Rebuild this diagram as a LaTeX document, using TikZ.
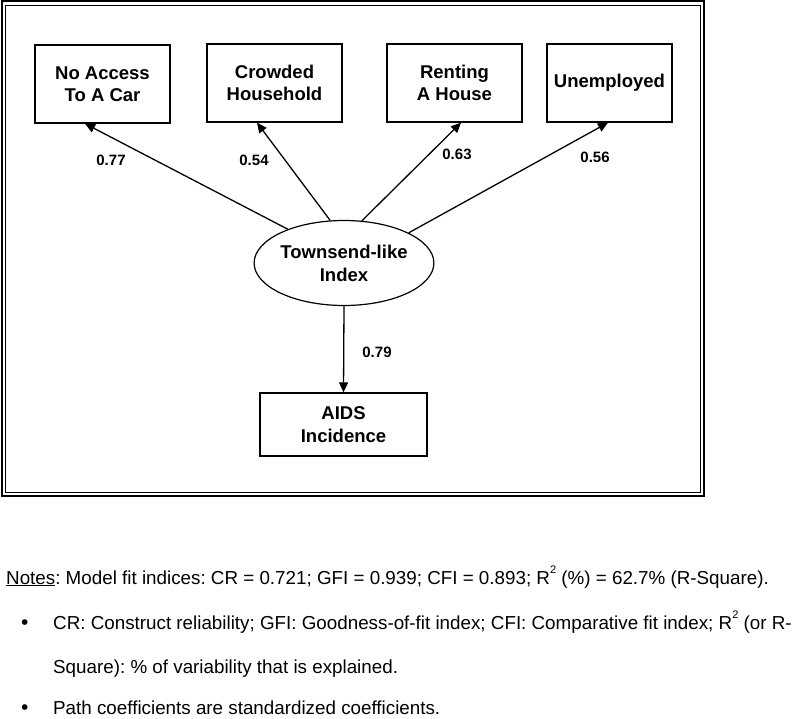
\documentclass[tikz,border=0pt]{standalone}
\usepackage{fontspec}
\setmainfont{Liberation Sans}
\usetikzlibrary{arrows.meta,shapes.geometric}
\newcommand{\mysq}{\raisebox{0.55em}{\fontsize{11}{11}\selectfont 2}}
\begin{document}
\frenchspacing
\begin{tikzpicture}[x=1pt,y=-1pt,
  box/.style={draw,line width=1.3pt,minimum width=135pt,minimum height=78pt,inner sep=0pt,
    align=center,font=\fontsize{18.5}{22.5}\selectfont\bfseries},
  lat/.style={draw,ellipse,line width=1.2pt,minimum width=170pt,minimum height=85pt,inner sep=0pt,
    align=center,font=\fontsize{18.5}{23}\selectfont\bfseries},
  coef/.style={font=\fontsize{15}{18}\selectfont\bfseries,inner sep=0pt},
  path/.style={line width=1.3pt,-{Triangle[length=10pt,width=9pt]}},
  note/.style={anchor=base west,inner sep=0pt,font=\fontsize{18.8}{22}\selectfont\frenchspacing}
]
\useasboundingbox (0,0) rectangle (800,719);
\fill[white] (0,0) rectangle (800,719);
% frame
\draw[line width=2pt] (1.5,1.5) rectangle (704,496);
\draw[line width=1pt] (5.5,5.5) rectangle (700.5,492);
% observed variables
\node[box] (b1) at (102.5,84) {No Access\\To A Car};
\node[box] (b2) at (274.5,83) {Crowded\\Household};
\node[box] (b3) at (454.5,83) {Renting\\A House};
\node[box,minimum width=125pt] (b4) at (609.5,83) {Unemployed};
\node[lat] (ell) at (344,263) {Townsend-like\\Index};
\node[box,minimum width=167pt,minimum height=63pt] (aids) at (343.5,424.5) {AIDS\\Incidence};
% paths
\draw[path] (ell.149) -- ([xshift=-17.5pt]b1.south);
\draw[path] (ell.108) -- ([xshift=-17.5pt]b2.south);
\draw[path] (ell.67) -- ([xshift=6.5pt]b3.south);
\draw[path] (ell.25) -- ([xshift=-1.5pt]b4.south);
\draw[path] (ell.south) -- (aids.north);
% coefficients
\node[coef] (c1) at (111,160) {0.77};
\node[coef] (c2) at (254,160) {0.54};
\node[coef] (c3) at (457,154) {0.63};
\node[coef] (c4) at (595,157) {0.56};
\node[coef] (c5) at (377,352) {0.79};
% notes
\node[note] (n1) at (6,584) {\underline{Notes}: Model fit indices: CR = 0.721; GFI = 0.939; CFI = 0.893; R\mysq{} (\%) = 62.7\% (R-Square).};
\node[note,font=\fontsize{21}{22}\selectfont] (bl1) at (21,629) {\textbullet};
\node[note] (n2) at (53,629) {CR: Construct reliability; GFI: Goodness-of-fit index; CFI: Comparative fit index; R\mysq{} (or R-};
\node[note] (n3) at (53,673) {Square): \% of variability that is explained.};
\node[note,font=\fontsize{21}{22}\selectfont] (bl2) at (21,714) {\textbullet};
\node[note] (n4) at (53,714) {Path coefficients are standardized coefficients.};
\end{tikzpicture}
\end{document}
